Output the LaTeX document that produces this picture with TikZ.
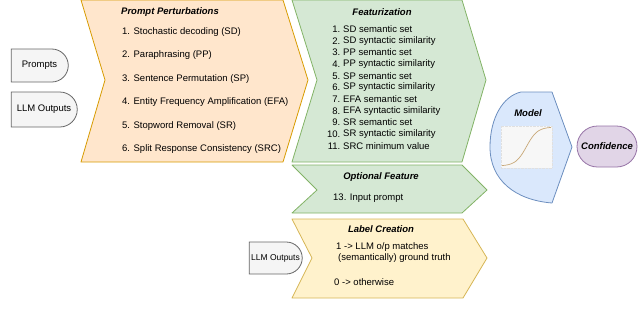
\documentclass[tikz,border=0pt]{standalone}
\usepackage{fontspec}
\setmainfont{Liberation Sans}
\usetikzlibrary{positioning,shapes.misc}
\definecolor{orangefill}{HTML}{FFE6CC}
\definecolor{orangeline}{HTML}{D79B00}
\definecolor{greenfill}{HTML}{D5E8D4}
\definecolor{greenline}{HTML}{82B366}
\definecolor{yellowfill}{HTML}{FFF2CC}
\definecolor{yellowline}{HTML}{D6B656}
\definecolor{bluefill}{HTML}{DAE8FC}
\definecolor{blueline}{HTML}{6C8EBF}
\definecolor{purplefill}{HTML}{E1D5E7}
\definecolor{purpleline}{HTML}{9673A6}
\definecolor{greyfill}{HTML}{F5F5F5}
\definecolor{greyline}{HTML}{666666}
\definecolor{sigline}{HTML}{C8A878}
\tikzset{
  panel/.style={line width=0.8pt, line join=round},
  paneltitle/.style={font=\fontsize{9.5}{11}\selectfont\bfseries\itshape, inner sep=0pt},
  item/.style={font=\fontsize{9.5}{11}\selectfont, anchor=west, inner sep=0pt},
  inputbox/.style={draw=greyline, fill=greyfill, line width=0.8pt, rounded rectangle, rounded rectangle west arc=none, font=\fontsize{9.5}{11}\selectfont, inner sep=0pt},
}
\begin{document}
\begin{tikzpicture}[x=1pt,y=-1pt]
\useasboundingbox (0,0) rectangle (640,319);
\draw[panel, draw=orangeline, fill=orangefill] (81,0) -- (283,0) -- (308,80) -- (283,162) -- (81,162) -- (105,80) -- cycle;
\draw[panel, draw=greenline, fill=greenfill] (292,0) -- (462,0) -- (486,80) -- (462,162) -- (292,162) -- (317,80) -- cycle;
\draw[panel, draw=greenline, fill=greenfill] (292,165) -- (462,165) -- (487,190) -- (462,213) -- (292,213) -- (317,190) -- cycle;
\draw[panel, draw=yellowline, fill=yellowfill] (292,219) -- (463,219) -- (487,258) -- (463,298) -- (292,298) -- (312,258) -- cycle;
\draw[panel, draw=blueline, fill=bluefill] (521,92) -- (552,92) -- (572,147) -- (552,203) .. controls (515,200) and (490,180) .. (490,147) .. controls (490,118) and (503,96) .. (521,92);

\node[inputbox, minimum width=57pt, minimum height=33pt] (prompts) at (39.5,65.5) {Prompts};
\node[inputbox, minimum width=66pt, minimum height=35pt] (outputs) at (44,109.5) {LLM Outputs};
\node[inputbox, minimum width=53pt, minimum height=32pt, font=\fontsize{8.5}{10}\selectfont] (labeloutputs) at (275.5,258) {LLM Outputs};

\node[paneltitle] (pertitle) at (170,12) {Prompt Perturbations};
\foreach \t [count=\i] in {Stochastic decoding (SD), Paraphrasing (PP), Sentence Permutation (SP), Entity Frequency Amplification (EFA), Stopword Removal (SR), Split Response Consistency (SRC)}
  \node[item] (pert\i) at (122,{32+(\i-1)*23.4}) {\i. \t};

\node[paneltitle] (feattitle) at (382,12) {Featurization};
\foreach \t [count=\i] in {SD semantic set, SD syntactic similarity, PP semantic set, PP syntactic similarity, SP semantic set, SP syntactic similarity, EFA semantic set, EFA syntactic similarity, SR semantic set, SR syntactic similarity, SRC minimum value}{
  \node[item, anchor=east] (featnum\i) at (340.5,{29+(\i-1)*11.7}) {\i.};
  \node[item] (feat\i) at (343,{29+(\i-1)*11.7}) {\t};
}

\node[paneltitle] (opttitle) at (381,177) {Optional Feature};
\node[item] (opt13) at (333,198) {13. Input prompt};

\node[paneltitle] (labeltitle) at (381,229) {Label Creation};
\node[item] (labelone) at (336,247) {1 -> LLM o/p matches};
\node[item] (labeltwo) at (338,258) {(semantically) ground truth};
\node[item] (labelzero) at (334,282) {0 -> otherwise};

\node[paneltitle] (modeltitle) at (528,113) {Model};
\draw[draw=black!12, densely dotted, fill=black!3] (501,126) rectangle (552,168);
\draw[sigline, line width=0.7pt] plot[domain=0:1, samples=40, smooth] ({502+49*\x}, {166-39/(1+exp(-9*(\x-0.5)))});

\node[rounded rectangle, draw=purpleline, fill=purplefill, line width=0.8pt, minimum width=60pt, minimum height=41pt, inner sep=0pt, font=\fontsize{9.5}{11}\selectfont\bfseries\itshape] (confidence) at (607,146.5) {Confidence};
\end{tikzpicture}
\end{document}
